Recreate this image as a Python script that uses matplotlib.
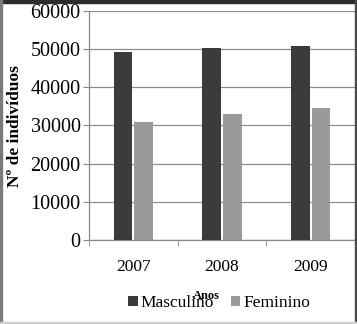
import matplotlib
matplotlib.use("Agg")
import matplotlib.pyplot as plt
import numpy as np
from matplotlib.patches import Rectangle

years = ["2007", "2008", "2009"]
masculino = [49200, 50400, 50900]
feminino = [31000, 33000, 34500]
y_ticks = [0, 10000, 20000, 30000, 40000, 50000, 60000]

plt.rcParams["font.family"] = ["Liberation Serif", "DejaVu Serif"]

W, H = 357, 324
fig = plt.figure(figsize=(W / 100, H / 100), dpi=100)
ax = fig.add_axes([89 / W, 1 - 240 / H, 266 / W, 229 / H])

x = np.arange(len(years))
width = 0.21
ax.bar(x - 0.115, masculino, width, color="#3b3b3b", zorder=3, label="Masculino")
ax.bar(x + 0.115, feminino, width, color="#9a9a9a", zorder=3, label="Feminino")

ax.set_xlim(-0.5, len(years) - 0.5)
ax.set_ylim(0, 60000)
ax.set_yticks(y_ticks)
ax.set_yticklabels([str(v) for v in y_ticks], fontsize=14.5)
ax.set_xticks(x)
ax.set_xticklabels(years, fontsize=12.5)
ax.set_xticks(np.arange(-0.5, len(years)), minor=True)

ax.tick_params(axis="x", which="major", length=0, pad=14)
ax.tick_params(axis="x", which="minor", length=4, color="#888888", direction="out")
ax.tick_params(axis="y", length=4, color="#888888", pad=2)

ax.grid(axis="y", color="#8c8c8c", linewidth=0.9, zorder=0)
for side in ("top", "right"):
    ax.spines[side].set_visible(False)
for side in ("left", "bottom"):
    ax.spines[side].set_color("#888888")
    ax.spines[side].set_linewidth(0.9)

# axis titles placed like in the original export
fig.text(15 / W, 1 - 126 / H, "Nº de indivíduos", fontsize=12.5, fontweight="bold",
         rotation=90, ha="center", va="center")
fig.text(206 / W, 1 - 296 / H, "Anos", fontsize=9, fontweight="bold",
         ha="center", va="center")

fig.legend(
    loc="center",
    bbox_to_anchor=(219 / W, 1 - 303 / H),
    ncol=2,
    frameon=False,
    fontsize=12.5,
    handlelength=0.55,
    handleheight=0.55,
    handletextpad=0.15,
    columnspacing=1.0,
)

# outer frame of the original screenshot
fig.patches.append(Rectangle((0, 1 - 3 / H), 1, 3 / H, transform=fig.transFigure,
                             color="#2b2b2b", zorder=10))
fig.patches.append(Rectangle((1 - 2 / W, 0), 2 / W, 1, transform=fig.transFigure,
                             color="#4a4a4a", zorder=10))
fig.patches.append(Rectangle((0, 0), 2 / W, 1, transform=fig.transFigure,
                             color="#7a7a7a", zorder=10))
fig.patches.append(Rectangle((0, 0), 1, 2 / H, transform=fig.transFigure,
                             color="#cfcfcf", zorder=10))

fig.savefig("out.png", dpi=100)
